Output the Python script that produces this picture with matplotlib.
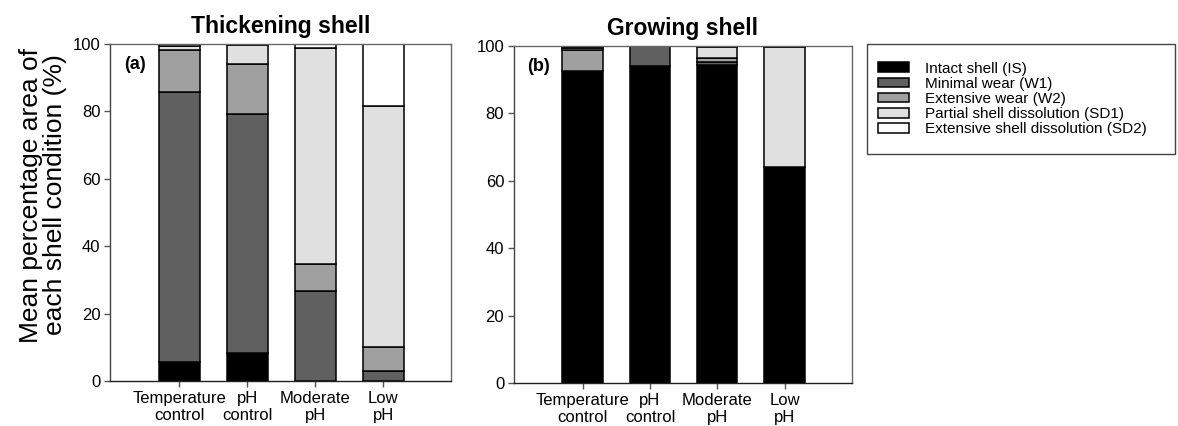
import matplotlib.pyplot as plt
from matplotlib.patches import Rectangle
import numpy as np

plt.rcParams['font.family'] = ['Liberation Sans', 'DejaVu Sans']

groups = ["Temperature\ncontrol", "pH\ncontrol", "Moderate\npH", "Low\npH"]
conditions = ["Intact shell (IS)", "Minimal wear (W1)", "Extensive wear (W2)",
              "Partial shell dissolution (SD1)", "Extensive shell dissolution (SD2)"]
colors = ["#000000", "#606060", "#a0a0a0", "#e0e0e0", "#ffffff"]

# (a) thickening shell, one list per condition, values per group
thick_IS = [5.5, 8.4, 0.0, 0.0]
thick_W1 = [80.2, 70.9, 26.7, 3.0]
thick_W2 = [12.6, 14.9, 7.9, 7.2]
thick_SD1 = [1.2, 5.6, 64.2, 71.4]
thick_SD2 = [0.5, 0.2, 1.2, 18.4]

# (b) growing shell
grow_IS = [92.7, 94.1, 94.4, 64.2]
grow_W1 = [0.0, 5.8, 0.8, 0.0]
grow_W2 = [6.1, 0.0, 1.2, 0.0]
grow_SD1 = [0.6, 0.0, 3.2, 35.6]
grow_SD2 = [0.4, 0.1, 0.4, 0.2]

thick = [thick_IS, thick_W1, thick_W2, thick_SD1, thick_SD2]
grow = [grow_IS, grow_W1, grow_W2, grow_SD1, grow_SD2]

fig = plt.figure(figsize=(11.78, 4.26), dpi=100)
ax_a = fig.add_axes([0.0934, 0.1056, 0.2895, 0.791])
ax_b = fig.add_axes([0.4363, 0.1009, 0.2869, 0.791])


def stacked(ax, data, title, tag):
    x = np.arange(len(groups))
    bottom = np.zeros(len(groups))
    handles = []
    for vals, col, lab in zip(data, colors, conditions):
        h = ax.bar(x, vals, 0.6, bottom=bottom, color=col, edgecolor="black",
                   linewidth=1.1, label=lab)
        bottom += np.array(vals)
        handles.append(h)
    ax.set_xlim(-1.02, 4.0)
    ax.set_ylim(0, 100)
    ax.set_yticks([0, 20, 40, 60, 80, 100])
    ax.set_xticks(x)
    ax.set_xticklabels(groups, fontsize=12, linespacing=1.2)
    ax.tick_params(axis="y", labelsize=12, direction="out", length=4, width=1,
                   color="#555555", pad=3)
    ax.tick_params(axis="x", direction="out", length=4, width=1, color="#555555", pad=3)
    for s in ax.spines.values():
        s.set_color("#666666")
        s.set_linewidth(1.0)
    ax.spines["bottom"].set_color("#222222")
    ax.spines["left"].set_color("#444444")
    ax.set_title(title, fontsize=16.5, fontweight="bold", pad=8)
    ax.text(0.04, 0.965, tag, transform=ax.transAxes, fontsize=13, fontweight="bold",
            va="top", ha="left")
    return handles


handles = stacked(ax_a, thick, "Thickening shell", "(a)")
stacked(ax_b, grow, "Growing shell", "(b)")

ax_a.set_ylabel("Mean percentage area of\neach shell condition (%)", fontsize=19,
                linespacing=1.0)
ax_a.yaxis.set_label_coords(-0.126, 0.552)

# legend frame drawn separately so its size matches the original box
fig.patches.append(Rectangle((0.736, 0.6385), 0.2615, 0.258, transform=fig.transFigure,
                             facecolor="white", edgecolor="#444444", linewidth=1.0))
leg = fig.legend(handles, conditions, loc="center left", bbox_to_anchor=(0.7453, 0.7676),
                 fontsize=11, frameon=False, handlelength=2.0, handleheight=0.6,
                 labelspacing=0.08, borderpad=0, borderaxespad=0, handletextpad=1.1)

fig.savefig("out.png", dpi=100)
